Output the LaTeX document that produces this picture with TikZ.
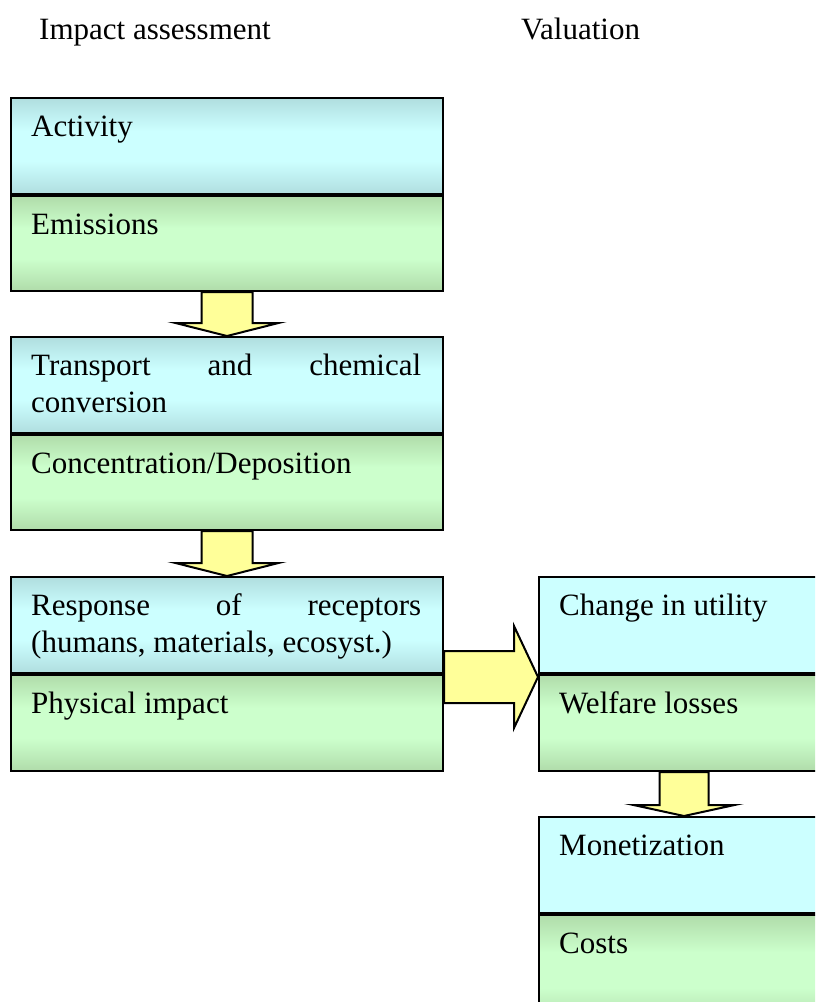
\documentclass[tikz,border=0pt]{standalone}
\usepackage{fontspec}
\setmainfont{Liberation Serif}
\usetikzlibrary{calc,backgrounds}

\definecolor{cyanEdge}{HTML}{B0DEDF}
\definecolor{cyanMid}{HTML}{CCFFFF}
\definecolor{greenEdge}{HTML}{B0DCAA}
\definecolor{greenMid}{HTML}{CCFFCC}
\definecolor{arrowFill}{HTML}{FFFF99}

% darker rims at top and bottom, light band in the middle
\pgfdeclareverticalshading{cyanband}{100bp}{color(0bp)=(cyanEdge); color(25bp)=(cyanEdge); color(42bp)=(cyanMid); color(58bp)=(cyanMid); color(75bp)=(cyanEdge); color(100bp)=(cyanEdge)}
\pgfdeclareverticalshading{greenband}{100bp}{color(0bp)=(greenEdge); color(25bp)=(greenEdge); color(42bp)=(greenMid); color(58bp)=(greenMid); color(75bp)=(greenEdge); color(100bp)=(greenEdge)}

\tikzset{
  panel/.style={rectangle, draw=black, line width=2pt, inner sep=0pt,
    anchor=north west, minimum width=432pt, minimum height=96pt},
  widepanel/.style={panel, minimum width=290pt},
  cyanpanel/.style={panel, shade, shading=cyanband},
  greenpanel/.style={panel, shade, shading=greenband},
  flatcyan/.style={widepanel, fill=cyanMid},
  greenwide/.style={widepanel, shade, shading=greenband},
  lbl/.style={inner sep=0pt, anchor=base west, font=\fontsize{31}{37}\selectfont},
  jlbl/.style={lbl, text width=390pt, align=justify},
  blockarrow/.style={draw=black, line width=2pt, fill=arrowFill, line join=miter}
}

\begin{document}
\begin{tikzpicture}[x=1pt, y=-1pt]
\useasboundingbox (0,0) rectangle (815,1002);
\clip (0,0) rectangle (815,1002);

% column headings
\node[lbl] (hImp) at (39,39) {Impact assessment};
\node[lbl] (hVal) at (521,39) {Valuation};

% impact assessment chain
\node[cyanpanel] (act) at (10,97) {};
\node[greenpanel, minimum height=95pt] (emis) at (act.south west) {};
\node[cyanpanel] (trans) at (10,336) {};
\node[greenpanel, minimum height=95pt] (conc) at (trans.south west) {};
\node[cyanpanel] (resp) at (10,576) {};
\node[greenpanel] (phys) at (resp.south west) {};

% valuation chain
\node[flatcyan] (chg) at (538,576) {};
\node[greenwide] (wel) at (chg.south west) {};
\node[flatcyan] (mon) at (538,816) {};
\node[greenwide, minimum height=110pt] (cost) at (mon.south west) {};

% panel texts
\node[lbl] (tAct) at ($(act.north west)+(21,39)$) {Activity};
\node[lbl] (tEmis) at ($(emis.north west)+(21,39)$) {Emissions};
\node[jlbl] (tTrans) at ($(trans.north west)+(21,39)$) {Transport and chemical\linebreak conversion};
\node[lbl] (tConc) at ($(conc.north west)+(21,39)$) {Concentration/Deposition};
\node[jlbl] (tResp) at ($(resp.north west)+(21,39)$) {Response of receptors\linebreak (humans, materials, ecosyst.)};
\node[lbl] (tPhys) at ($(phys.north west)+(21,39)$) {Physical impact};
\node[lbl] (tChg) at ($(chg.north west)+(21,39)$) {Change in utility};
\node[lbl] (tWel) at ($(wel.north west)+(21,39)$) {Welfare losses};
\node[lbl] (tMon) at ($(mon.north west)+(21,39)$) {Monetization};
\node[lbl] (tCost) at ($(cost.north west)+(21,39)$) {Costs};

% block arrows between the panels
\begin{scope}[on background layer]
\draw[blockarrow] let \p1=(emis.south), \p2=(trans.north) in
  ({\x1-25.5pt},\y1) -- ({\x1-25.5pt},{\y2+13pt}) -- ({\x1-51.5pt},{\y2+13pt})
  -- (\x1,\y2) -- ({\x1+51.5pt},{\y2+13pt}) -- ({\x1+25.5pt},{\y2+13pt})
  -- ({\x1+25.5pt},\y1) -- cycle;
\draw[blockarrow] let \p1=(conc.south), \p2=(resp.north) in
  ({\x1-25.5pt},\y1) -- ({\x1-25.5pt},{\y2+13pt}) -- ({\x1-51.5pt},{\y2+13pt})
  -- (\x1,\y2) -- ({\x1+51.5pt},{\y2+13pt}) -- ({\x1+25.5pt},{\y2+13pt})
  -- ({\x1+25.5pt},\y1) -- cycle;
\draw[blockarrow] let \p1=(wel.south), \p2=(mon.north) in
  ({\x1-24.5pt},\y1) -- ({\x1-24.5pt},{\y2+11pt}) -- ({\x1-50.5pt},{\y2+11pt})
  -- (\x1,\y2) -- ({\x1+50.5pt},{\y2+11pt}) -- ({\x1+24.5pt},{\y2+11pt})
  -- ({\x1+24.5pt},\y1) -- cycle;
\draw[blockarrow] let \p1=(resp.south east), \p2=(chg.south west) in
  (\x1,{\y1+23pt}) -- ({\x2-24pt},{\y1+23pt}) -- ({\x2-24pt},{\y1+48pt})
  -- (\x2,{\y1-3pt}) -- ({\x2-24pt},{\y1-54pt}) -- ({\x2-24pt},{\y1-29pt})
  -- (\x1,{\y1-29pt}) -- cycle;
\end{scope}
\end{tikzpicture}
\end{document}
